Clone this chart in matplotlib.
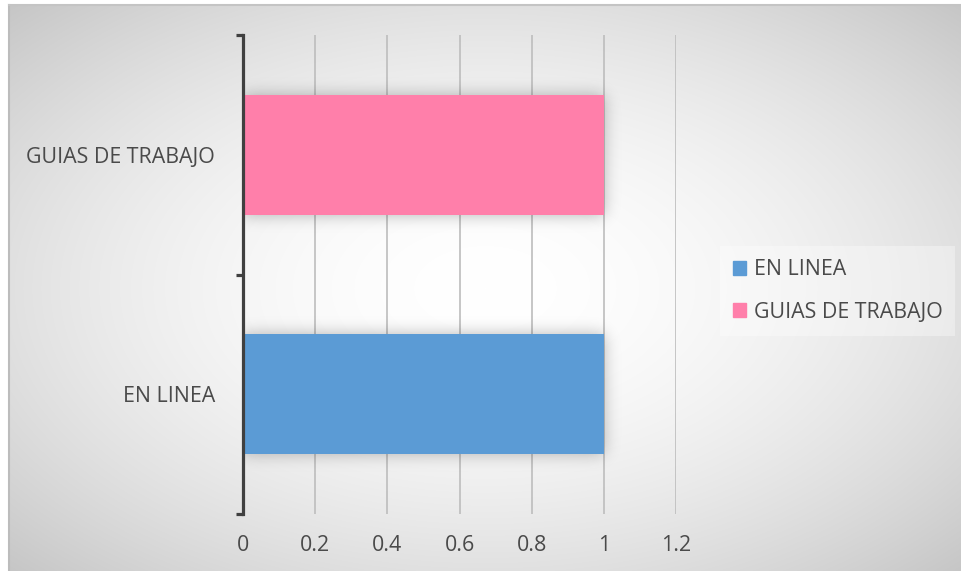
import numpy as np
import matplotlib
matplotlib.use("Agg")
import matplotlib.pyplot as plt
from matplotlib.patches import Rectangle

# Data
categories = ["EN LINEA", "GUIAS DE TRABAJO"]
values = [1, 1]
bar_colors = ["#5B9BD5", "#FF7FAA"]
x_ticks = [0, 0.2, 0.4, 0.6, 0.8, 1, 1.2]
x_tick_labels = ["0", "0.2", "0.4", "0.6", "0.8", "1", "1.2"]

plt.rcParams["font.family"] = ["Open Sans", "DejaVu Sans"]
TXT = "#4a4a4a"
FS = 15.4

W, H = 961, 571
fig = plt.figure(figsize=(W / 100, H / 100), dpi=100)
fig.patch.set_facecolor("white")

# Chart-area background: radial gradient, white centre fading to grey
bx0, by1 = 9, 5
bg = fig.add_axes([bx0 / W, 0, 1 - bx0 / W, 1 - by1 / H], zorder=-10)
gw, gh = W - bx0, H - by1
yy, xx = np.mgrid[0:gh, 0:gw]
rx = (xx - gw / 2) / (gw / 2)
ry = (yy - gh / 2) / (gh / 2)
rn = np.sqrt(rx ** 2 + ry ** 2)
v = 1 - 0.12 * rn ** 1.8
bg.imshow(np.dstack([v, v, v]), aspect="auto", extent=[0, 1, 0, 1], origin="upper")
bg.plot([0, 0], [0, 1], color="#bcbcbc", lw=1.5, transform=bg.transAxes, clip_on=False)
bg.plot([0, 1], [1, 1], color="#c4c4c4", lw=1.5, transform=bg.transAxes, clip_on=False)
bg.set_xlim(0, 1)
bg.set_ylim(0, 1)
bg.axis("off")

# Plot area
left, right, top, bottom = 243, 676, 35, 514
ax = fig.add_axes([left / W, 1 - bottom / H, (right - left) / W, (bottom - top) / H])
ax.set_facecolor("none")
ax.set_xlim(0, 1.2)
ax.set_ylim(-0.5, len(categories) - 0.5)

ypos = np.arange(len(categories))
bar_h = 0.5

# Soft shadow behind the bars
pw, ph = right - left, bottom - top
mask = np.zeros((ph, pw))
for y, val in zip(ypos, values):
    x1 = int(round(val / 1.2 * pw))
    ytop = int(round((len(categories) - 0.5 - (y + bar_h / 2)) / len(categories) * ph))
    ybot = int(round((len(categories) - 0.5 - (y - bar_h / 2)) / len(categories) * ph))
    mask[ytop:ybot, 0:x1] = 1.0
sig = 8.0
k = np.arange(-30, 31)
kern = np.exp(-k ** 2 / (2 * sig ** 2))
kern /= kern.sum()
blur = np.apply_along_axis(lambda r: np.convolve(r, kern, mode="same"), 1, mask)
blur = np.apply_along_axis(lambda c: np.convolve(c, kern, mode="same"), 0, blur)
shadow = np.zeros((ph, pw, 4))
shadow[..., 3] = 0.28 * blur
ax.imshow(shadow, aspect="auto", extent=[0, 1.2, -0.5, len(categories) - 0.5],
          origin="upper", zorder=1)

# Gridlines
for xt in x_ticks[1:]:
    ax.axvline(xt, color="#bdbdbd", lw=1.2, zorder=0.5)

ax.barh(ypos, values, height=bar_h, color=bar_colors, zorder=2)

for s in ["top", "right", "bottom"]:
    ax.spines[s].set_visible(False)
ax.spines["left"].set_color("#404040")
ax.spines["left"].set_linewidth(2.3)
ax.spines["left"].set_zorder(3)

ax.set_xticks(x_ticks)
ax.set_xticklabels(x_tick_labels, color=TXT, fontsize=FS)
ax.tick_params(axis="x", length=0, pad=15)

ax.set_yticks(np.arange(-0.5, len(categories), 1.0))
ax.set_yticklabels([])
ax.tick_params(axis="y", which="major", length=5, width=2.3, color="#404040", direction="out")
ax.set_yticks(ypos, minor=True)
ax.set_yticklabels(categories, minor=True, color=TXT, fontsize=FS)
ax.tick_params(axis="y", which="minor", length=0, pad=20)

# Legend
handles = [Rectangle((0, 0), 1, 1, color=c) for c in bar_colors]
leg = fig.legend(handles, categories, loc="center left",
                 bbox_to_anchor=(720 / W, 1 - 291 / H), frameon=True,
                 fontsize=FS, handlelength=0.62, handleheight=0.62,
                 handletextpad=0.35, labelspacing=1.0, borderpad=0.6,
                 borderaxespad=0)
leg.get_frame().set_facecolor("white")
leg.get_frame().set_alpha(0.35)
leg.get_frame().set_edgecolor("none")
leg.get_frame().set_boxstyle("square", pad=0)
for t in leg.get_texts():
    t.set_color(TXT)

fig.savefig("out.png", dpi=100)
